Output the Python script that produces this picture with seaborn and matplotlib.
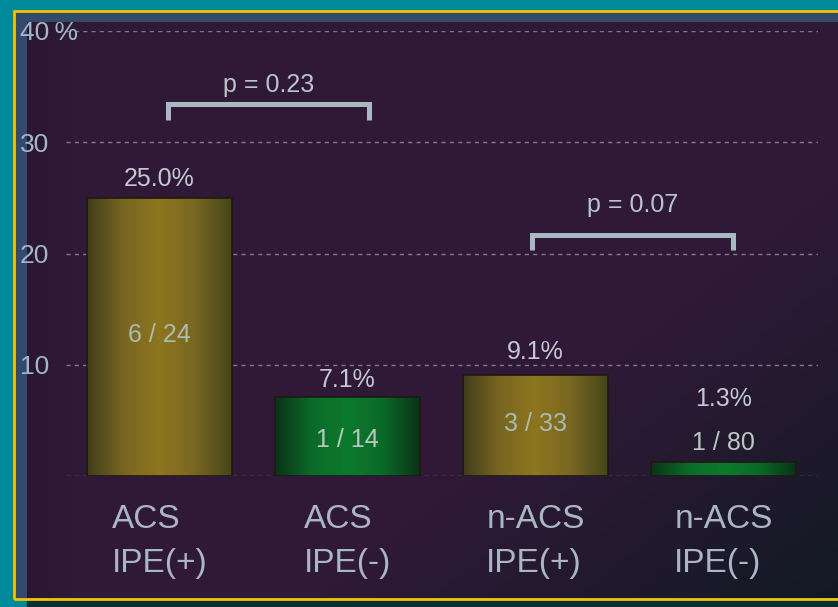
import numpy as np
import pandas as pd
import seaborn as sns
import matplotlib
matplotlib.use("Agg")
import matplotlib.pyplot as plt
from matplotlib.patches import Rectangle
from matplotlib.colors import LinearSegmentedColormap

# data
groups = ["ACS\nIPE(+)", "ACS\nIPE(-)", "n-ACS\nIPE(+)", "n-ACS\nIPE(-)"]
rates = [25.0, 7.1, 9.1, 1.3]
rate_labels = ["25.0%", "7.1%", "9.1%", "1.3%"]
counts = ["6 / 24", "1 / 14", "3 / 33", "1 / 80"]
ipe_pos = [True, False, True, False]
yticks = [10, 20, 30, 40]
ytick_labels = ["10", "20", "30", "40\u2009%"]
p_values = ["p = 0.23", "p = 0.07"]

sns.set_theme(style="white")
plt.rcParams["font.family"] = ["Liberation Sans", "DejaVu Sans"]

W, H = 838, 607
fig = plt.figure(figsize=(W / 100, H / 100), dpi=100)
fig.patch.set_facecolor("#00899b")

# slide-like frame
fig.add_artist(Rectangle((27 / W, 0), 1, 1 - 599 / H, transform=fig.transFigure,
                         color="#0a2d36", zorder=0))
fig.add_artist(Rectangle((14 / W, 1 - 598 / H), 13 / W, (598 - 11) / H,
                         transform=fig.transFigure, color="#344a6c", zorder=0))
fig.add_artist(Rectangle((14 / W, 1 - 22 / H), 1, 11 / H,
                         transform=fig.transFigure, color="#344a6c", zorder=0))

bg = fig.add_axes([27 / W, 1 - 598 / H, 1 - 27 / W, (598 - 22) / H])
gx, gy = np.meshgrid(np.linspace(0, 1, 300), np.linspace(0, 1, 200))
purple = np.array([0.19, 0.10, 0.215])
dark = np.array([0.075, 0.098, 0.145])
t = np.clip((gx * 0.9 + gy * 0.8 - 1.1) * 1.7, 0, 1)[..., None]
img = purple * (1 - t) + dark * t
left = np.clip(1 - gx / 0.06, 0, 1)[..., None] * 0.1
img = img * (1 - left)
bg.imshow(img, aspect="auto", extent=[0, 1, 0, 1], origin="upper")
bg.axis("off")

fig.add_artist(Rectangle((14 / W, 1 - 599 / H), 1, (599 - 11) / H, transform=fig.transFigure,
                         fill=False, edgecolor="#f4c300", lw=2, zorder=10))

ax = fig.add_axes([65.5 / W, 1 - 476 / H, 752 / W, 445 / H])
ax.patch.set_alpha(0)

df = pd.DataFrame({"group": groups, "rate": rates})
sns.barplot(data=df, x="group", y="rate", ax=ax, width=0.766, color="#8a7222",
            edgecolor="#1c1a12", linewidth=1.2, zorder=2)

gold = LinearSegmentedColormap.from_list("gold", ["#3f3d1a", "#786622", "#8e761f", "#786622", "#454519"])
green = LinearSegmentedColormap.from_list("green", ["#0a3218", "#0b6a28", "#0c7a2c", "#0b6a28", "#0a3218"])
grad = np.linspace(0, 1, 256)[None, :]
for patch, pos in zip(ax.patches, ipe_pos):
    x0, y0 = patch.get_x(), patch.get_y()
    w, h = patch.get_width(), patch.get_height()
    im = ax.imshow(grad, cmap=gold if pos else green, aspect="auto",
                   extent=[x0, x0 + w, y0, y0 + h], zorder=2.5, interpolation="bicubic")
    im.set_clip_path(patch)
    patch.set_facecolor("none")
    patch.set_zorder(3)

ax.set_xlim(-0.5, 3.5)
ax.set_ylim(0, 40)
for s in ax.spines.values():
    s.set_visible(False)
ax.yaxis.grid(True, linestyle=(0, (3, 3)), color="#7e7a8c", lw=1)
ax.set_axisbelow(True)
ax.set_yticks([0] + yticks)
ax.set_yticklabels([""] + ytick_labels)
ax.tick_params(axis="y", length=0, pad=32.8, labelsize=19, labelcolor="#a3b6c8")
for lab in ax.get_yticklabels():
    lab.set_horizontalalignment("left")
ax.tick_params(axis="x", length=0, pad=20, labelsize=24, labelcolor="#aab6c2")
for lab in ax.get_xticklabels():
    lab.set_multialignment("left")
    lab.set_linespacing(1.55)
ax.set_xlabel("")
ax.set_ylabel("")

# value labels above bars, counts inside
label_y = [26.1, 8.0, 10.5, 6.3]
count_y = [12.05, 2.6, 4.05, 2.34]
for i in range(4):
    ax.text(i, label_y[i], rate_labels[i], ha="center", va="baseline",
            fontsize=18, color="#c3c9d2", zorder=5)
    ax.text(i, count_y[i], counts[i], ha="center", va="baseline", fontsize=18,
            color="#a9bcae" if ipe_pos[i] else "#b9c9c2", zorder=5)

# significance brackets
brackets = [(0.043, 1.117, 33.4, 32.0, 34.5), (1.98, 3.05, 21.65, 20.3, 23.7)]
for (xa, xb, ytop, ybot, ytxt), ptxt in zip(brackets, p_values):
    ax.plot([xa, xa, xb, xb], [ybot, ytop, ytop, ybot], color="#a9b9c2", lw=3.6,
            solid_joinstyle="miter", solid_capstyle="butt", zorder=5, clip_on=False)
    ax.text((xa + xb) / 2, ytxt, ptxt, ha="center", va="baseline", fontsize=18,
            color="#b9c4cc", zorder=5)

fig.savefig("out.png", dpi=100, facecolor=fig.get_facecolor())
